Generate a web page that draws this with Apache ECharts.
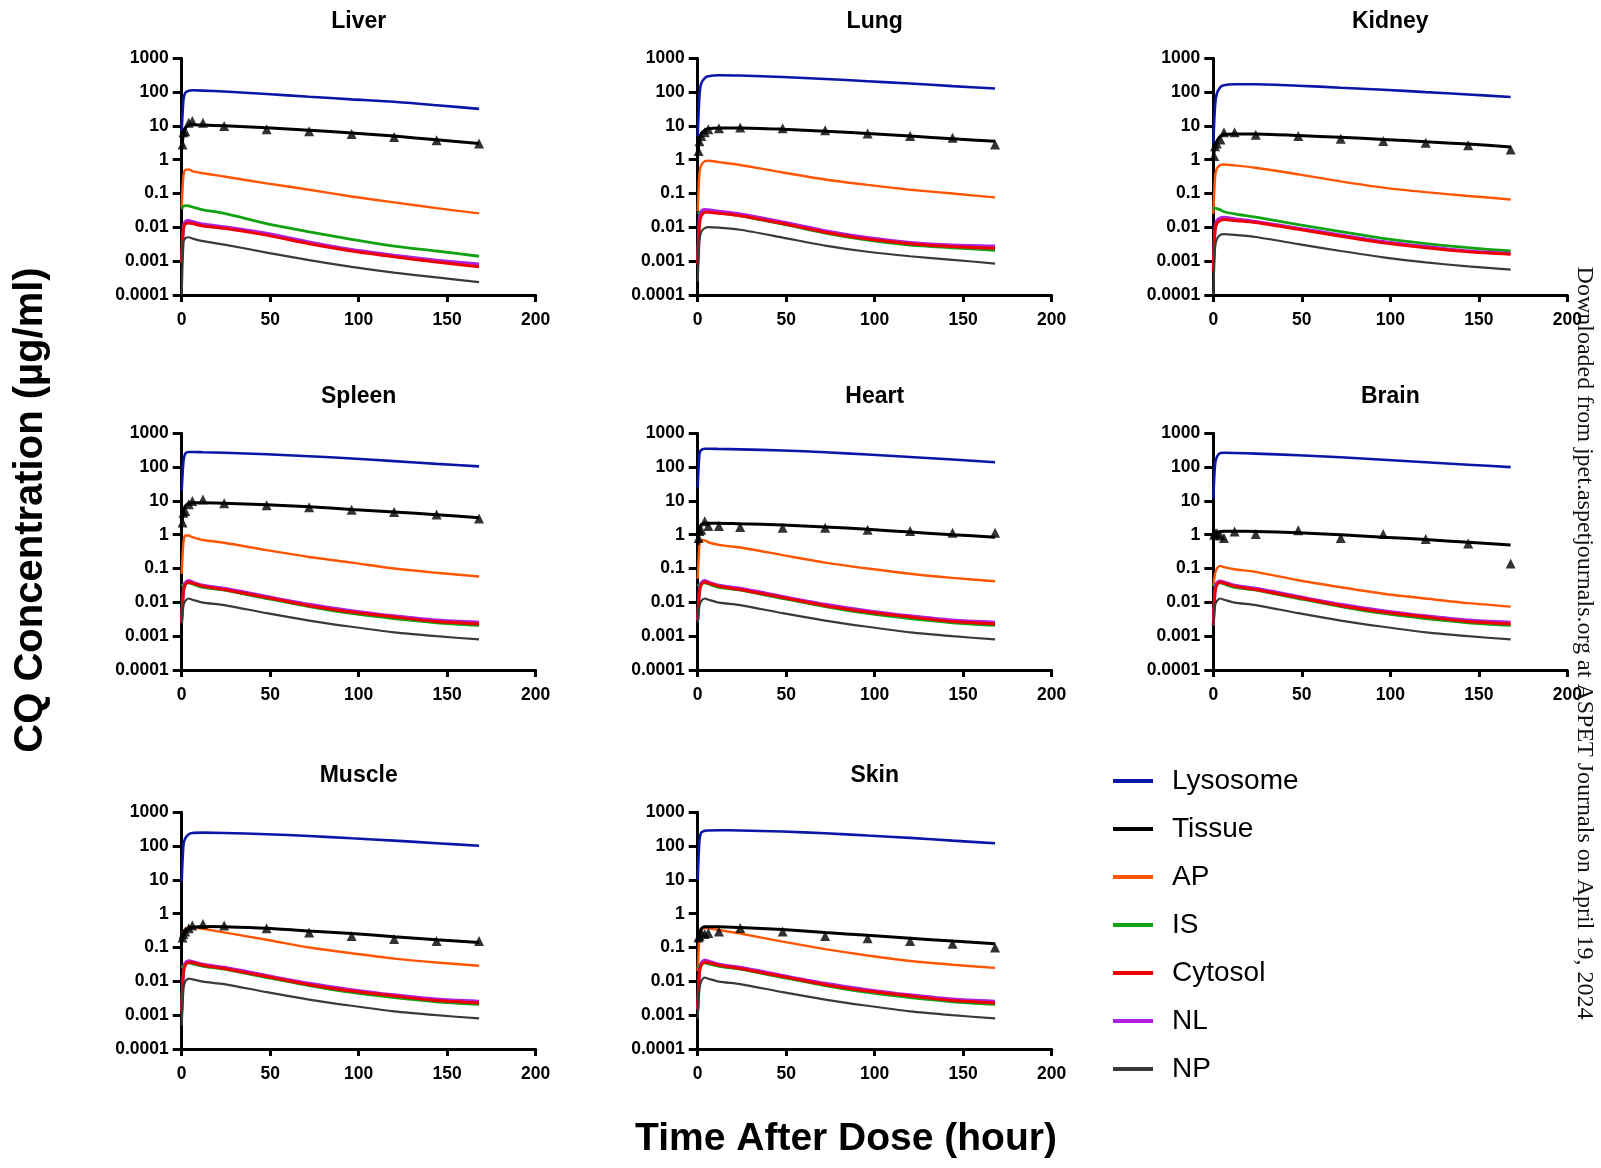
<!DOCTYPE html>
<html>
<head>
<meta charset="utf-8">
<script src="https://cdn.jsdelivr.net/npm/echarts@6/dist/echarts.min.js"></script>
<style>
html,body{margin:0;padding:0;background:#fff;}
#chart{width:1601px;height:1168px;}
</style>
</head>
<body>
<div id="chart"></div>
<script>
// ---------- DATA ----------
const organs = ['Liver', 'Lung', 'Kidney', 'Spleen', 'Heart', 'Brain', 'Muscle', 'Skin'];
const compartments = ['Lysosome', 'Tissue', 'AP', 'IS', 'Cytosol', 'NL', 'NP'];
const timeModel = [0, 1, 2, 4, 6, 12, 24, 48, 72, 96, 120, 144, 168];
const timeObs = [0.5, 1, 2, 4, 6, 12, 24, 48, 72, 96, 120, 144, 168];
const xTicks = [0, 50, 100, 150, 200];
const yTicks = [0.0001, 0.001, 0.01, 0.1, 1, 10, 100, 1000];

// rows: Liver, Lung, Kidney, Spleen, Heart, Brain, Muscle, Skin
const lysosome = [
  [7, 60, 95, 110, 113, 111, 104, 88, 73, 61, 52, 41, 32],
  [5, 80, 180, 260, 295, 315, 310, 280, 245, 210, 180, 150, 128],
  [3, 40, 90, 140, 160, 170, 170, 155, 135, 118, 100, 85, 72],
  [20, 150, 250, 280, 280, 275, 265, 240, 210, 180, 150, 125, 105],
  [25, 250, 320, 350, 350, 345, 335, 310, 275, 235, 200, 168, 140],
  [12, 120, 200, 260, 265, 262, 250, 225, 195, 165, 140, 118, 100],
  [9, 110, 170, 225, 245, 250, 245, 225, 200, 170, 145, 122, 102],
  [10, 150, 250, 285, 290, 295, 290, 270, 240, 205, 175, 145, 122]
];
const tissue = [
  [2, 6, 8.5, 10.5, 10.8, 10.6, 10.2, 8.8, 7.5, 6.2, 5.0, 3.9, 3.0],
  [1.5, 4, 6, 7.5, 8.3, 8.7, 8.7, 8.0, 7.0, 6.0, 5.0, 4.2, 3.5],
  [1.3, 2.5, 3.5, 5, 5.6, 5.8, 5.8, 5.2, 4.6, 4.0, 3.4, 2.9, 2.4],
  [2, 5, 7, 8.5, 8.8, 8.8, 8.5, 7.7, 6.7, 5.6, 4.7, 3.9, 3.2],
  [0.5, 1.5, 2.0, 2.2, 2.2, 2.2, 2.1, 1.95, 1.7, 1.45, 1.2, 1.0, 0.85],
  [0.6, 1.0, 1.15, 1.25, 1.27, 1.27, 1.25, 1.15, 1.0, 0.85, 0.72, 0.6, 0.5],
  [0.15, 0.25, 0.3, 0.37, 0.4, 0.42, 0.41, 0.37, 0.31, 0.26, 0.21, 0.17, 0.14],
  [0.15, 0.28, 0.36, 0.41, 0.41, 0.41, 0.39, 0.34, 0.28, 0.23, 0.19, 0.155, 0.13]
];
const tissueObs = [
  [2.8, 6.5, 7, 12.5, 14, 12.5, 10, 8, 7, 5.8, 4.7, 3.8, 3],
  [1.8, 3.5, 5, 6.5, 8, 8.5, 9, 8.5, 7.5, 6, 5, 4.5, 2.8],
  [1.3, 2.5, 3, 4, 6.5, 6.5, 5.5, 5, 4.2, 3.6, 3.2, 2.7, 2],
  [2.3, 4.5, 5, 8, 10, 11, 8.5, 7.5, 6.5, 5.5, 4.7, 4, 3],
  [0.8, 1.3, 1.4, 2.5, 1.8, 1.8, 1.7, 1.6, 1.6, 1.4, 1.3, 1.15, 1.15],
  [1.0, 1.1, 1.1, 0.95, 0.8, 1.25, 1.05, 1.35, 0.8, 1.05, 0.75, 0.55, 0.14],
  [0.2, 0.25, 0.3, 0.37, 0.45, 0.5, 0.45, 0.37, 0.28, 0.22, 0.18, 0.155, 0.155],
  [0.2, 0.22, 0.28, 0.25, 0.27, 0.3, 0.38, 0.3, 0.22, 0.19, 0.155, 0.13, 0.1]
];
const ap = [
  [0.04, 0.35, 0.5, 0.52, 0.46, 0.4, 0.32, 0.2, 0.13, 0.082, 0.055, 0.037, 0.026],
  [0.03, 0.4, 0.7, 0.9, 0.93, 0.85, 0.7, 0.42, 0.26, 0.18, 0.13, 0.1, 0.077],
  [0.025, 0.3, 0.55, 0.7, 0.72, 0.68, 0.58, 0.37, 0.23, 0.15, 0.11, 0.085, 0.067],
  [0.07, 0.6, 0.95, 0.95, 0.85, 0.7, 0.58, 0.35, 0.22, 0.15, 0.1, 0.075, 0.058],
  [0.05, 0.5, 0.7, 0.68, 0.6, 0.5, 0.42, 0.25, 0.15, 0.1, 0.07, 0.053, 0.042],
  [0.03, 0.07, 0.1, 0.12, 0.11, 0.095, 0.08, 0.045, 0.028, 0.018, 0.013, 0.0095, 0.0075],
  [0.25, 0.3, 0.35, 0.4, 0.4, 0.36, 0.28, 0.17, 0.1, 0.068, 0.047, 0.036, 0.029],
  [0.02, 0.2, 0.32, 0.38, 0.37, 0.33, 0.26, 0.15, 0.09, 0.058, 0.04, 0.031, 0.025]
];
const is = [
  [0.035, 0.042, 0.044, 0.043, 0.04, 0.033, 0.026, 0.013, 0.0074, 0.0044, 0.0028, 0.002, 0.0014],
  [0.025, 0.028, 0.03, 0.031, 0.03, 0.027, 0.022, 0.0125, 0.0068, 0.0042, 0.003, 0.0025, 0.0021],
  [0.035, 0.037, 0.036, 0.033, 0.029, 0.025, 0.02, 0.012, 0.0075, 0.0047, 0.0033, 0.0025, 0.002],
  [0.03, 0.034, 0.037, 0.038, 0.035, 0.028, 0.023, 0.013, 0.0075, 0.0047, 0.0033, 0.0025, 0.0021],
  [0.03, 0.034, 0.037, 0.038, 0.035, 0.028, 0.023, 0.013, 0.0075, 0.0047, 0.0033, 0.0025, 0.0021],
  [0.03, 0.034, 0.037, 0.038, 0.035, 0.028, 0.023, 0.013, 0.0075, 0.0047, 0.0033, 0.0025, 0.0021],
  [0.025, 0.03, 0.033, 0.035, 0.033, 0.028, 0.023, 0.013, 0.0075, 0.0047, 0.0033, 0.0025, 0.0021],
  [0.025, 0.03, 0.033, 0.035, 0.033, 0.028, 0.023, 0.013, 0.0075, 0.0047, 0.0033, 0.0025, 0.0021]
];
const cytosol = [
  [0.0009, 0.009, 0.0125, 0.0135, 0.013, 0.011, 0.0094, 0.0059, 0.0033, 0.002, 0.00135, 0.00095, 0.00068],
  [0.0008, 0.012, 0.022, 0.028, 0.028, 0.026, 0.022, 0.013, 0.0072, 0.0045, 0.0033, 0.0027, 0.0024],
  [0.0005, 0.008, 0.013, 0.016, 0.017, 0.016, 0.014, 0.0088, 0.0055, 0.0035, 0.0025, 0.0019, 0.0016],
  [0.0025, 0.02, 0.033, 0.04, 0.037, 0.03, 0.024, 0.014, 0.008, 0.0052, 0.0037, 0.0027, 0.0023],
  [0.003, 0.02, 0.033, 0.04, 0.037, 0.03, 0.024, 0.014, 0.008, 0.0052, 0.0037, 0.0027, 0.0023],
  [0.002, 0.02, 0.033, 0.04, 0.037, 0.03, 0.024, 0.014, 0.008, 0.0052, 0.0037, 0.0027, 0.0023],
  [0.0012, 0.018, 0.03, 0.037, 0.036, 0.03, 0.024, 0.014, 0.008, 0.0052, 0.0037, 0.0027, 0.0023],
  [0.0015, 0.018, 0.03, 0.037, 0.036, 0.03, 0.024, 0.014, 0.008, 0.0052, 0.0037, 0.0027, 0.0023]
];
const nl = [
  [0.001, 0.011, 0.015, 0.016, 0.015, 0.0125, 0.0104, 0.0067, 0.0037, 0.0022, 0.0015, 0.00107, 0.00082],
  [0.001, 0.02, 0.03, 0.034, 0.033, 0.03, 0.025, 0.0145, 0.008, 0.005, 0.0036, 0.003, 0.0028],
  [0.0006, 0.01, 0.016, 0.019, 0.02, 0.018, 0.015, 0.0095, 0.006, 0.0038, 0.0027, 0.002, 0.0017],
  [0.003, 0.025, 0.038, 0.044, 0.04, 0.032, 0.026, 0.015, 0.0088, 0.0057, 0.004, 0.003, 0.0026],
  [0.003, 0.025, 0.038, 0.044, 0.04, 0.032, 0.026, 0.015, 0.0088, 0.0057, 0.004, 0.003, 0.0026],
  [0.002, 0.025, 0.038, 0.043, 0.04, 0.032, 0.026, 0.015, 0.0088, 0.0057, 0.004, 0.003, 0.0026],
  [0.0015, 0.02, 0.035, 0.041, 0.039, 0.032, 0.026, 0.015, 0.0088, 0.0057, 0.004, 0.003, 0.0026],
  [0.0015, 0.02, 0.035, 0.043, 0.04, 0.032, 0.026, 0.015, 0.0088, 0.0057, 0.004, 0.003, 0.0026]
];
const np = [
  [0.0001, 0.0035, 0.0048, 0.0051, 0.0047, 0.0039, 0.0031, 0.0018, 0.00107, 0.00068, 0.00046, 0.00033, 0.00024],
  [0.00025, 0.004, 0.0075, 0.0095, 0.0102, 0.0098, 0.0085, 0.005, 0.0029, 0.0019, 0.0014, 0.0011, 0.00085],
  [0.0001, 0.0025, 0.0045, 0.006, 0.0063, 0.006, 0.0052, 0.0032, 0.002, 0.0013, 0.00092, 0.0007, 0.00056],
  [0.0025, 0.008, 0.011, 0.013, 0.012, 0.0098, 0.0083, 0.0048, 0.0029, 0.0019, 0.0013, 0.001, 0.0008],
  [0.0025, 0.008, 0.011, 0.013, 0.012, 0.0098, 0.0083, 0.0048, 0.0029, 0.0019, 0.0013, 0.001, 0.0008],
  [0.002, 0.008, 0.011, 0.013, 0.012, 0.0098, 0.0083, 0.0048, 0.0029, 0.0019, 0.0013, 0.001, 0.0008],
  [0.0005, 0.006, 0.01, 0.012, 0.0115, 0.0098, 0.0083, 0.0048, 0.0029, 0.0019, 0.0013, 0.001, 0.0008],
  [0.0008, 0.006, 0.01, 0.013, 0.012, 0.0098, 0.0083, 0.0048, 0.0029, 0.0019, 0.0013, 0.001, 0.0008]
];

// ---------- LAYOUT / STYLE ----------
const colLeft = [181.7, 697.7, 1213.3];
const rowTop = [58.3, 433.3, 812.3];
const gridW = 354, gridH = 236.7;
const panelPos = [[0,0],[0,1],[0,2],[1,0],[1,1],[1,2],[2,0],[2,1]];
const titleY = [22, 396.5, 776];
const SANS = "'Liberation Sans', Arial, Helvetica, sans-serif";

const styles = {
  Lysosome: { color: '#0a16a8', width: 2.6, z: 3 },
  Tissue:   { color: '#000000', width: 3,   z: 6 },
  AP:       { color: '#ff5500', width: 2.4, z: 2 },
  IS:       { color: '#12a312', width: 2.8, z: 2 },
  Cytosol:  { color: '#ee0000', width: 3,   z: 4 },
  NL:       { color: '#b020e0', width: 3,   z: 3 },
  NP:       { color: '#3a3a3a', width: 2.2, z: 4 }
};
const dataByComp = { Lysosome: lysosome, Tissue: tissue, AP: ap, IS: is, Cytosol: cytosol, NL: nl, NP: np };
const drawOrder = ['AP', 'IS', 'NL', 'Cytosol', 'NP', 'Lysosome', 'Tissue'];

const grids = [], xAxes = [], yAxes = [], series = [], graphics = [];
const fmt = v => String(parseFloat(Number(v).toPrecision(4)));

organs.forEach((organ, p) => {
  const [r, c] = panelPos[p];
  grids.push({ left: colLeft[c], top: rowTop[r], width: gridW, height: gridH, containLabel: false });
  xAxes.push({
    type: 'value', gridIndex: p, min: xTicks[0], max: xTicks[xTicks.length - 1], interval: 50,
    axisLine: { show: true, onZero: false, lineStyle: { color: '#000', width: 3 } },
    axisTick: { show: true, length: 7, lineStyle: { color: '#000', width: 3 } },
    axisLabel: { color: '#000', fontSize: 17.5, fontWeight: 'bold', fontFamily: SANS, margin: 16 },
    splitLine: { show: false }
  });
  yAxes.push({
    type: 'log', logBase: 10, gridIndex: p, min: yTicks[0], max: yTicks[yTicks.length - 1], interval: 1,
    axisLine: { show: true, onZero: false, lineStyle: { color: '#000', width: 3 } },
    axisTick: { show: true, length: 9, lineStyle: { color: '#000', width: 3 } },
    minorTick: { show: false },
    axisLabel: { color: '#000', fontSize: 17.5, fontWeight: 'bold', fontFamily: SANS, margin: 13, formatter: fmt },
    splitLine: { show: false }
  });
  drawOrder.forEach(comp => {
    const st = styles[comp];
    series.push({
      name: comp, type: 'line', xAxisIndex: p, yAxisIndex: p,
      data: timeModel.map((t, i) => [t, dataByComp[comp][p][i]]),
      showSymbol: false, symbol: 'none', smooth: 0.25, z: st.z,
      lineStyle: { color: st.color, width: st.width },
      itemStyle: { color: st.color },
      emphasis: { disabled: true }
    });
  });
  series.push({
    name: 'Tissue (observed)', type: 'scatter', xAxisIndex: p, yAxisIndex: p,
    data: timeObs.map((t, i) => [t, tissueObs[p][i]]),
    symbol: 'triangle', symbolSize: 10, z: 7,
    itemStyle: { color: '#000' }
  });
  graphics.push({
    type: 'text', x: colLeft[c] + gridW / 2, y: titleY[r],
    style: { text: organ, fill: '#000', font: 'bold 23px ' + SANS, textAlign: 'center', textVerticalAlign: 'middle' }
  });
});

graphics.push({
  type: 'text', x: 31, y: 510, rotation: Math.PI / 2,
  style: { text: 'CQ Concentration (µg/ml)', fill: '#000', font: 'bold 40px ' + SANS, textAlign: 'center', textVerticalAlign: 'middle' }
});
graphics.push({
  type: 'text', x: 846, y: 1139,
  style: { text: 'Time After Dose (hour)', fill: '#000', font: 'bold 39px ' + SANS, textAlign: 'center', textVerticalAlign: 'middle' }
});
graphics.push({
  type: 'text', x: 1584, y: 643, rotation: -Math.PI / 2, z: 100,
  style: { text: 'Downloaded from jpet.aspetjournals.org at ASPET Journals on April 19, 2024', fill: '#111',
           font: "24px 'Liberation Serif', 'Times New Roman', serif", textAlign: 'center', textVerticalAlign: 'middle' }
});

const chart = echarts.init(document.getElementById('chart'), null, { renderer: 'canvas' });
chart.setOption({
  animation: false,
  backgroundColor: '#fff',
  grid: grids,
  xAxis: xAxes,
  yAxis: yAxes,
  legend: {
    data: compartments,
    orient: 'vertical', left: 1108, top: 761,
    icon: 'rect', itemWidth: 40, itemHeight: 4, itemGap: 18,
    selectedMode: false,
    textStyle: { color: '#000', fontSize: 28, fontFamily: SANS, lineHeight: 30, padding: [0, 0, 0, 14] }
  },
  series: series,
  graphic: graphics
});
</script>
</body>
</html>
